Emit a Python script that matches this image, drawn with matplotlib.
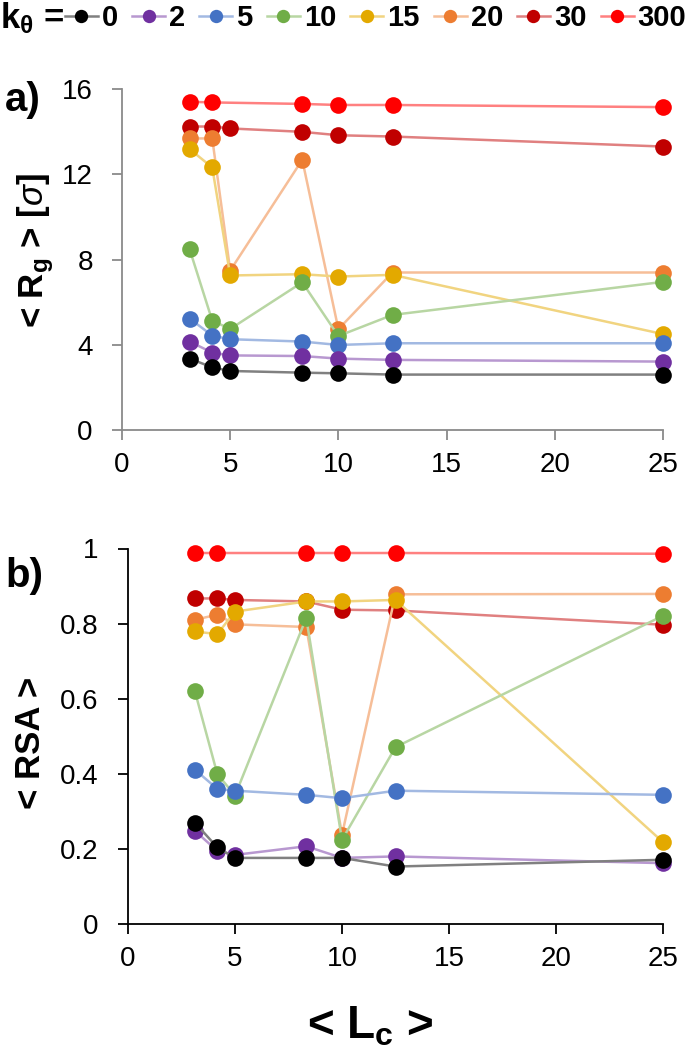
import numpy as np
import matplotlib
matplotlib.use("Agg")
import matplotlib.pyplot as plt
from matplotlib.colors import to_rgb

plt.rcParams['font.family'] = ['Liberation Sans', 'DejaVu Sans']
plt.rcParams['mathtext.fontset'] = 'custom'
plt.rcParams['mathtext.rm'] = 'Liberation Sans'
plt.rcParams['mathtext.it'] = 'Liberation Sans:italic'
plt.rcParams['mathtext.bf'] = 'Liberation Sans:bold'

# < Lc > values
lc = np.array([3.125, 4.17, 5, 8.33, 10, 12.5, 25])

k_labels = ['0', '2', '5', '10', '15', '20', '30', '300']
colors = ['#000000', '#7030A0', '#4472C4', '#70AD47', '#E3A900', '#ED7D31', '#C00000', '#FF0000']

# panel a: < Rg > [sigma]
rg_k0 = [3.35, 2.94, 2.77, 2.69, 2.66, 2.60, 2.60]
rg_k2 = [4.15, 3.63, 3.50, 3.47, 3.35, 3.29, 3.21]
rg_k5 = [5.23, 4.43, 4.26, 4.15, 3.99, 4.07, 4.07]
rg_k10 = [8.48, 5.13, 4.74, 6.93, 4.41, 5.40, 6.95]
rg_k15 = [13.18, 12.32, 7.25, 7.31, 7.20, 7.28, 4.50]
rg_k20 = [13.68, 13.68, 7.48, 12.68, 4.73, 7.39, 7.39]
rg_k30 = [14.24, 14.24, 14.15, 13.99, 13.83, 13.77, 13.30]
rg_k300 = [15.40, 15.37, np.nan, 15.30, 15.25, 15.25, 15.15]

# panel b: < RSA >
rsa_k0 = [0.270, 0.204, 0.176, 0.176, 0.176, 0.153, 0.171]
rsa_k2 = [0.248, 0.195, 0.184, 0.207, 0.176, 0.180, 0.162]
rsa_k5 = [0.411, 0.360, 0.355, 0.344, 0.335, 0.355, 0.344]
rsa_k10 = [0.620, 0.400, 0.342, 0.815, 0.224, 0.471, 0.821]
rsa_k15 = [0.779, 0.772, 0.832, 0.859, 0.859, 0.863, 0.218]
rsa_k20 = [0.810, 0.824, 0.798, 0.791, 0.238, 0.878, 0.879]
rsa_k30 = [0.867, 0.867, 0.863, 0.859, 0.837, 0.835, 0.797]
rsa_k300 = [0.988, 0.988, np.nan, 0.988, 0.988, 0.988, 0.986]

rg = [rg_k0, rg_k2, rg_k5, rg_k10, rg_k15, rg_k20, rg_k30, rg_k300]
rsa = [rsa_k0, rsa_k2, rsa_k5, rsa_k10, rsa_k15, rsa_k20, rsa_k30, rsa_k300]


def lighter(c, f=0.5):
    r, g, b = to_rgb(c)
    return (1 - f * (1 - r), 1 - f * (1 - g), 1 - f * (1 - b))


def draw(ax, data):
    handles = []
    for i, (vals, c) in enumerate(zip(data, colors)):
        y = np.array(vals, dtype=float)
        ok = ~np.isnan(y)
        h, = ax.plot(lc[ok], y[ok], '-o', color=lighter(c), lw=1.8,
                     mfc=c, mec=c, mew=0, ms=12, zorder=20 - i)
        handles.append(h)
    return handles


fig = plt.figure(figsize=(6.89, 10.5), dpi=100)

ax1 = fig.add_axes([122 / 689, 1 - 430 / 1050, 541 / 689, 341 / 1050])
ax2 = fig.add_axes([128 / 689, 1 - 924 / 1050, 535 / 689, 375.5 / 1050])

handles = draw(ax1, rg)
draw(ax2, rsa)

ax1.set_xlim(0, 25)
ax1.set_ylim(0, 16)
ax1.set_yticks([0, 4, 8, 12, 16])
ax2.set_xlim(0, 25)
ax2.set_ylim(0, 1)
ax2.set_yticks([0, 0.2, 0.4, 0.6, 0.8, 1])
ax2.set_yticklabels(['0', '0.2', '0.4', '0.6', '0.8', '1'])

for ax, sc in [(ax1, '#8a8a8a'), (ax2, '#000000')]:
    ax.set_xticks([0, 5, 10, 15, 20, 25])
    for s in ['top', 'right']:
        ax.spines[s].set_visible(False)
    for s in ['left', 'bottom']:
        ax.spines[s].set_color(sc)
        ax.spines[s].set_linewidth(1.3)
        ax.spines[s].set_zorder(1)
    ax.tick_params(axis='both', length=7, width=1.3, color=sc,
                   labelsize=20, labelcolor='black')
    ax.tick_params(axis='y', pad=14)
    ax.tick_params(axis='x', pad=9)
    for line in ax.lines:
        line.set_clip_on(False)

fig.text(5 / 689, 1 - 111 / 1050, 'a)', fontsize=29, fontweight='bold', va='baseline')
fig.text(5 / 689, 1 - 587 / 1050, 'b)', fontsize=29, fontweight='bold', va='baseline')

fig.text(36 / 689, 1 - 251 / 1050, r'< R$_\mathbf{g}$ > [$\mathit{\sigma}$]',
         rotation=90, fontsize=25, fontweight='bold', ha='center', va='center')
fig.text(30 / 689, 1 - 743 / 1050, '< RSA >',
         rotation=90, fontsize=25, fontweight='bold', ha='center', va='center')
fig.text(370 / 689, 1 - 1038 / 1050, r'< L$_\mathbf{c}$ >',
         fontsize=33, fontweight='bold', ha='center', va='baseline')

fig.text(0, 1 - 28 / 1050, r'$\mathbf{k}_\mathbf{\theta}$ =',
         fontsize=25, fontweight='bold', va='baseline')
fig.legend(handles, k_labels, loc='center left',
           bbox_to_anchor=(65 / 689, 1 - 18 / 1050), ncol=8, frameon=False,
           prop={'weight': 'bold', 'size': 21}, handlelength=1.13,
           handletextpad=0.14, columnspacing=0.48, borderpad=0,
           borderaxespad=0, markerscale=0.8)

fig.savefig('out.png', dpi=100)
